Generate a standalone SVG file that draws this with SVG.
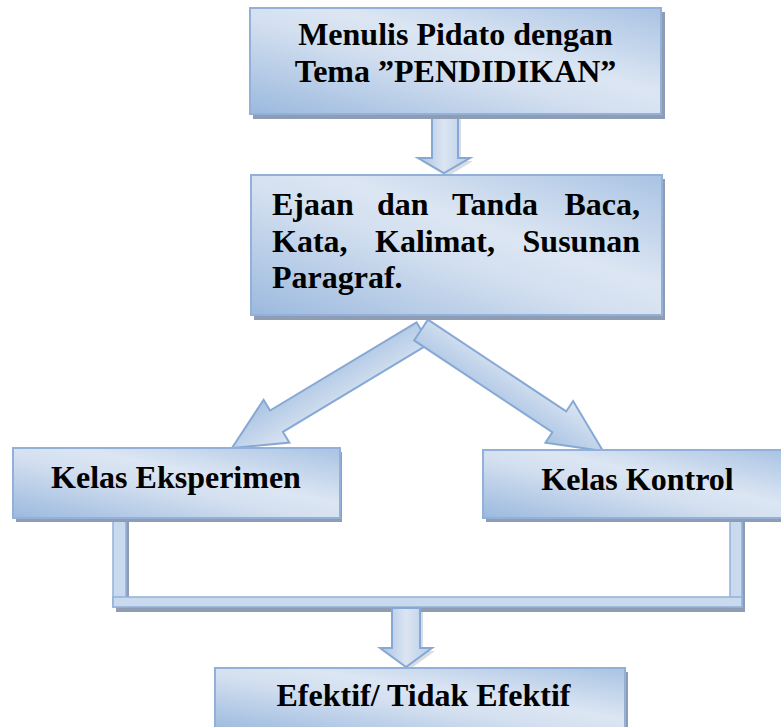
<svg xmlns="http://www.w3.org/2000/svg" width="781" height="727" viewBox="0 0 781 727">
<defs>
<linearGradient id="boxg" x1="0" y1="1" x2="1" y2="0">
<stop offset="0" stop-color="#9bb9de"/>
<stop offset="0.45" stop-color="#d4e0f0"/>
<stop offset="0.6" stop-color="#dce6f3"/>
<stop offset="1" stop-color="#a9c3e3"/>
</linearGradient>
<linearGradient id="arrg" x1="0" y1="0" x2="1" y2="0">
<stop offset="0" stop-color="#a6c1e2"/>
<stop offset="0.5" stop-color="#dbe5f2"/>
<stop offset="1" stop-color="#b3cbe7"/>
</linearGradient>
<linearGradient id="arrd" x1="0" y1="0" x2="0" y2="1">
<stop offset="0" stop-color="#dbe5f2"/>
<stop offset="1" stop-color="#a9c3e3"/>
</linearGradient>
</defs>
<style>
.shadow{fill:#8e9db3;}
.box{fill:url(#boxg);stroke:#93b1d8;stroke-width:2;}
.arr{fill:url(#arrg);stroke:#86a8d4;stroke-width:2;stroke-linejoin:miter;}
.arrd{fill:url(#arrd);stroke:#86a8d4;stroke-width:2;}
.bar{fill:#c9d9ee;stroke:#93b1d8;stroke-width:1.5;}
.t{font-family:"Liberation Serif","Times New Roman",serif;font-weight:bold;font-size:32px;fill:#000;}
.e{text-anchor:end;}
.m{text-anchor:middle;}
</style>
<rect width="781" height="727" fill="#fff"/>
<g id="connectors">
<polygon class="shadow" points="435,118 461,118 461,161 473,161 447,177 421,161 435,161" opacity="0.35"/>
<polygon class="arr" points="432,114 458,114 458,158 470,158 444,173 418,158 432,158"/>
<g transform="translate(423,333) rotate(148.95)">
<polygon class="arrd" points="0,-12.5 171,-12.5 171,-25 223,0 171,25 171,12.5 0,12.5"/>
</g>
<g transform="translate(421,330) rotate(33.6)">
<polygon class="arrd" points="0,-12.5 166,-12.5 166,-25 218.5,0 166,25 166,12.5 0,12.5"/>
</g>
<rect class="shadow" x="116" y="520" width="13" height="92"/>
<rect class="shadow" x="116" y="600" width="629" height="12"/>
<rect class="shadow" x="733" y="520" width="12" height="92"/>
<rect class="bar" x="113" y="517" width="13" height="90"/>
<rect class="bar" x="730" y="517" width="12" height="90"/>
<rect class="bar" x="113" y="597" width="629" height="10"/>
<polygon class="shadow" points="395,611 423,611 423,651 435,651 409,670 383,651 395,651" opacity="0.35"/>
<polygon class="arr" points="392,608 420,608 420,648 432,648 406,667 380,648 392,648"/>
</g>
<g id="node1">
<rect class="shadow" x="253" y="12" width="412" height="107"/>
<rect class="box" x="250" y="8" width="411" height="106"/>
<text class="t m" x="455.5" y="45">Menulis Pidato dengan</text>
<text class="t m" x="455.5" y="82">Tema ”PENDIDIKAN”</text>
</g>
<g id="node2">
<rect class="shadow" x="254" y="179" width="411" height="141"/>
<rect class="box" x="251" y="175" width="411" height="140"/>
<text class="t" y="215"><tspan x="272">Ejaan</tspan><tspan x="377">dan</tspan><tspan x="452">Tanda</tspan></text>
<text class="t e" x="640" y="215">Baca,</text>
<text class="t" y="252"><tspan x="272">Kata,</tspan><tspan x="375">Kalimat,</tspan></text>
<text class="t e" x="640" y="252">Susunan</text>
<text class="t" x="272" y="288">Paragraf.</text>
</g>
<g id="node3">
<rect class="shadow" x="16" y="452" width="326" height="70"/>
<rect class="box" x="13" y="448" width="327" height="70"/>
<text class="t m" x="176" y="488">Kelas Eksperimen</text>
</g>
<g id="node4">
<rect class="shadow" x="486" y="454" width="300" height="68"/>
<rect class="box" x="483" y="450" width="300" height="68"/>
<text class="t m" x="637.5" y="490">Kelas Kontrol</text>
</g>
<g id="node5">
<rect class="shadow" x="218" y="672" width="410" height="60"/>
<rect class="box" x="215" y="668" width="410" height="64"/>
<text class="t m" x="423.5" y="706">Efektif/ Tidak Efektif</text>
</g>
</svg>
